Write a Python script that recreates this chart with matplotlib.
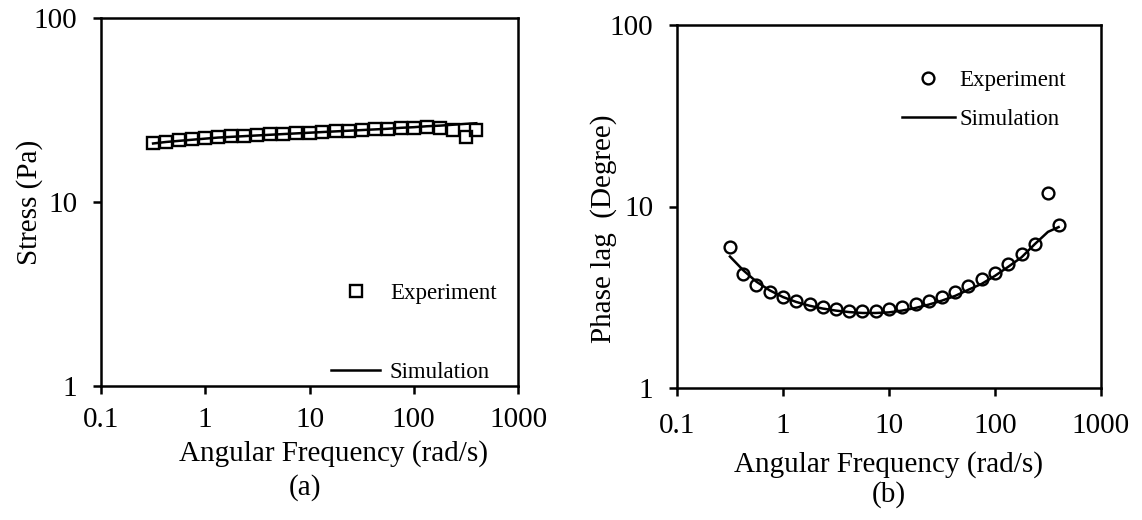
import numpy as np
import matplotlib
matplotlib.use("Agg")
import matplotlib.pyplot as plt
from matplotlib.ticker import FixedLocator, FixedFormatter, NullLocator

plt.rcParams["font.family"] = ["Liberation Serif", "DejaVu Serif"]

# Angular frequency sweep (rad/s), 8 points per decade plus the last point
omega = [0.316, 0.422, 0.562, 0.750, 1.00, 1.33, 1.78, 2.37, 3.16, 4.22,
         5.62, 7.50, 10.0, 13.3, 17.8, 23.7, 31.6, 42.2, 56.2, 75.0,
         100.0, 133.0, 178.0, 237.0, 316.0, 398.0]

# (a) stress amplitude, Pa
stress_exp = [20.9, 21.3, 21.7, 22.0, 22.3, 22.5, 22.7, 22.9, 23.1, 23.3,
              23.5, 23.6, 23.8, 24.0, 24.2, 24.4, 24.6, 24.8, 25.0, 25.2,
              25.4, 25.6, 25.4, 24.6, 22.6, 24.6]
stress_sim = [20.8, 21.2, 21.5, 21.8, 22.1, 22.4, 22.6, 22.8, 23.0, 23.2,
              23.4, 23.6, 23.8, 24.0, 24.2, 24.4, 24.6, 24.8, 25.0, 25.3,
              25.5, 25.8, 26.0, 26.3, 26.6, 26.8]

# (b) phase lag, degree
phase_exp = [6.0, 4.25, 3.69, 3.39, 3.18, 3.03, 2.90, 2.81, 2.72, 2.67,
             2.66, 2.67, 2.71, 2.81, 2.90, 3.01, 3.18, 3.39, 3.65, 3.99,
             4.32, 4.82, 5.47, 6.19, 11.8, 7.91]
phase_sim = [5.3, 4.45, 3.85, 3.45, 3.17, 2.98, 2.84, 2.74, 2.67, 2.62,
             2.59, 2.59, 2.61, 2.67, 2.76, 2.88, 3.03, 3.22, 3.48, 3.75,
             4.15, 4.65, 5.25, 6.2, 7.25, 7.7]

x_ticks = [0.1, 1, 10, 100, 1000]
x_tick_labels = ["0.1", "1", "10", "100", "1000"]
y_ticks = [1, 10, 100]
y_tick_labels = ["1", "10", "100"]

W, H = 1142, 520
fig = plt.figure(figsize=(W / 100, H / 100), dpi=100)


def frac(x0, y0, x1, y1):
    return [x0 / W, 1 - y1 / H, (x1 - x0) / W, (y1 - y0) / H]


ax_a = fig.add_axes(frac(101, 18, 518, 386))
ax_b = fig.add_axes(frac(677, 25, 1101, 388))

LW = 1.8
for ax, xpad in ((ax_a, 9), (ax_b, 12)):
    ax.set_xscale("log")
    ax.set_yscale("log")
    ax.set_xlim(0.1, 1000)
    ax.set_ylim(1, 100)
    ax.xaxis.set_major_locator(FixedLocator(x_ticks))
    ax.xaxis.set_major_formatter(FixedFormatter(x_tick_labels))
    ax.yaxis.set_major_locator(FixedLocator(y_ticks))
    ax.yaxis.set_major_formatter(FixedFormatter(y_tick_labels))
    ax.xaxis.set_minor_locator(NullLocator())
    ax.yaxis.set_minor_locator(NullLocator())
    ax.tick_params(direction="out", length=6, width=LW, labelsize=21,
                   colors="black")
    ax.tick_params(axis="x", pad=xpad)
    ax.tick_params(axis="y", pad=11)
    for sp in ax.spines.values():
        sp.set_linewidth(LW)
        sp.set_color("black")

# (a) stress
ax_a.plot(omega, stress_exp, linestyle="none", marker="s", markersize=8.5,
          markerfacecolor="none", markeredgecolor="black",
          markeredgewidth=1.7, label="Experiment")
ax_a.plot(omega, stress_sim, color="black", linewidth=1.8, label="Simulation")
ax_a.set_ylabel("Stress (Pa)", fontsize=21)
ax_a.yaxis.set_label_coords(-0.14, 0.5)
ax_a.set_xlabel("Angular Frequency (rad/s)", fontsize=21)
ax_a.xaxis.set_label_coords(0.557, -0.147)
ax_a.legend(loc="center", bbox_to_anchor=(414 / W, 1 - 333 / H),
            bbox_transform=fig.transFigure, frameon=False,
            fontsize=16.5, handlelength=2.1, handletextpad=0.45,
            labelspacing=2.5, borderpad=0)

# (b) phase lag
ax_b.plot(omega, phase_exp, linestyle="none", marker="o", markersize=8.5,
          markerfacecolor="none", markeredgecolor="black",
          markeredgewidth=1.7, label="Experiment")
ax_b.plot(omega, phase_sim, color="black", linewidth=1.8, label="Simulation")
ax_b.set_ylabel("Phase lag  (Degree)", fontsize=21)
ax_b.yaxis.set_label_coords(-0.142, 0.44)
ax_b.set_xlabel("Angular Frequency (rad/s)", fontsize=21)
ax_b.xaxis.set_label_coords(0.5, -0.173)
ax_b.legend(loc="center", bbox_to_anchor=(984 / W, 1 - 100 / H),
            bbox_transform=fig.transFigure, frameon=False,
            fontsize=16.5, handlelength=2.3, handletextpad=0.2,
            labelspacing=0.75, borderpad=0)

fig.text(305 / W, 1 - 488 / H, "(a)", fontsize=21, ha="center", va="center")
fig.text(889 / W, 1 - 495 / H, "(b)", fontsize=21, ha="center", va="center")

fig.savefig("out.png", dpi=100, facecolor="white")
